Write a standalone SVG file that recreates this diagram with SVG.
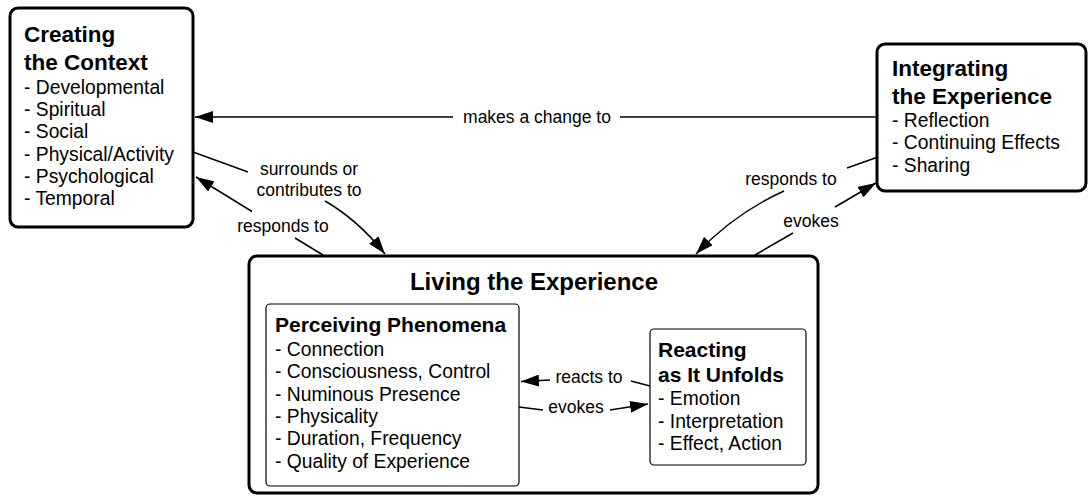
<svg xmlns="http://www.w3.org/2000/svg" width="1089" height="497" viewBox="0 0 1089 497">
  <style>
    .outer { fill: #ffffff; stroke: #000000; stroke-width: 3; }
    .inner { fill: #ffffff; stroke: #000000; stroke-width: 1.2; }
    .t1 { font-family: "Liberation Sans", Arial, sans-serif; font-weight: bold; font-size: 22.5px; fill: #000; }
    .t2 { font-family: "Liberation Sans", Arial, sans-serif; font-weight: bold; font-size: 21px; fill: #000; }
    .t0 { font-family: "Liberation Sans", Arial, sans-serif; font-weight: bold; font-size: 24px; fill: #000; }
    .it { font-family: "Liberation Sans", Arial, sans-serif; font-size: 19.3px; fill: #000; }
    .lb { font-family: "Liberation Sans", Arial, sans-serif; font-size: 17.5px; fill: #000; text-anchor: middle; }
    .cn { fill: none; stroke: #000000; stroke-width: 1.5; }
  </style>
  <defs>
    <marker id="arr" markerUnits="userSpaceOnUse" markerWidth="18" markerHeight="12" refX="18" refY="6" orient="auto">
      <path d="M0,0 L18,6 L0,12 z" fill="#000"/>
    </marker>
  </defs>
  <rect width="1089" height="497" fill="#ffffff"/>

  <g id="creating-context">
    <rect class="outer" x="10" y="8" width="183" height="219" rx="8"/>
    <text class="t1" x="24" y="42">Creating</text>
    <text class="t1" x="24" y="70">the Context</text>
    <text class="it" x="24" y="94">- Developmental</text>
    <text class="it" x="24" y="116.2">- Spiritual</text>
    <text class="it" x="24" y="138.4">- Social</text>
    <text class="it" x="24" y="160.6">- Physical/Activity</text>
    <text class="it" x="24" y="182.8">- Psychological</text>
    <text class="it" x="24" y="205">- Temporal</text>
  </g>

  <g id="integrating-experience">
    <rect class="outer" x="877" y="44" width="209" height="147" rx="8"/>
    <text class="t1" x="892" y="76">Integrating</text>
    <text class="t1" x="892" y="104">the Experience</text>
    <text class="it" x="892" y="126.7">- Reflection</text>
    <text class="it" x="892" y="149">- Continuing Effects</text>
    <text class="it" x="892" y="171.5">- Sharing</text>
  </g>

  <g id="living-experience">
    <rect class="outer" x="249" y="256" width="569" height="237" rx="8"/>
    <text class="t0" x="534" y="290" text-anchor="middle">Living the Experience</text>
  </g>

  <g id="perceiving-phenomena">
    <rect class="inner" x="266" y="304" width="253" height="182" rx="4"/>
    <text class="t2" x="275" y="332">Perceiving Phenomena</text>
    <text class="it" x="275" y="356">- Connection</text>
    <text class="it" x="275" y="378.3">- Consciousness, Control</text>
    <text class="it" x="275" y="400.7">- Numinous Presence</text>
    <text class="it" x="275" y="423">- Physicality</text>
    <text class="it" x="275" y="445.4">- Duration, Frequency</text>
    <text class="it" x="275" y="467.8">- Quality of Experience</text>
  </g>

  <g id="reacting-unfolds">
    <rect class="inner" x="650" y="329" width="156" height="136" rx="4"/>
    <text class="t2" x="658" y="357">Reacting</text>
    <text class="t2" x="658" y="381.5">as It Unfolds</text>
    <text class="it" x="658" y="405">- Emotion</text>
    <text class="it" x="658" y="427.5">- Interpretation</text>
    <text class="it" x="658" y="450">- Effect, Action</text>
  </g>

  <g id="connectors">
    <path class="cn" d="M877,117 L620,117"/>
    <path class="cn" d="M453,117 L195,117" marker-end="url(#arr)"/>
    <text class="lb" x="537" y="123">makes a change to</text>

    <path class="cn" d="M193,152 L248,172"/>
    <path class="cn" d="M325,201 Q358,220 385,254" marker-end="url(#arr)"/>
    <text class="lb" x="309" y="175">surrounds or</text>
    <text class="lb" x="309" y="196">contributes to</text>

    <path class="cn" d="M323,255 L295,238"/>
    <path class="cn" d="M252,211.5 L196,177" marker-end="url(#arr)"/>
    <text class="lb" x="283" y="232">responds to</text>

    <path class="cn" d="M878,157 L847,168"/>
    <path class="cn" d="M784,191 Q735,213 696,254" marker-end="url(#arr)"/>
    <text class="lb" x="791" y="185">responds to</text>

    <path class="cn" d="M755,255 L793,233"/>
    <path class="cn" d="M835,207 L876,183" marker-end="url(#arr)"/>
    <text class="lb" x="811" y="227">evokes</text>

    <path class="cn" d="M650,386 L631,381"/>
    <path class="cn" d="M550,380 L521,381.5" marker-end="url(#arr)"/>
    <text class="lb" x="589" y="383">reacts to</text>

    <path class="cn" d="M519,407 L543,410"/>
    <path class="cn" d="M610,410 L648,404" marker-end="url(#arr)"/>
    <text class="lb" x="576" y="413">evokes</text>
  </g>
</svg>
